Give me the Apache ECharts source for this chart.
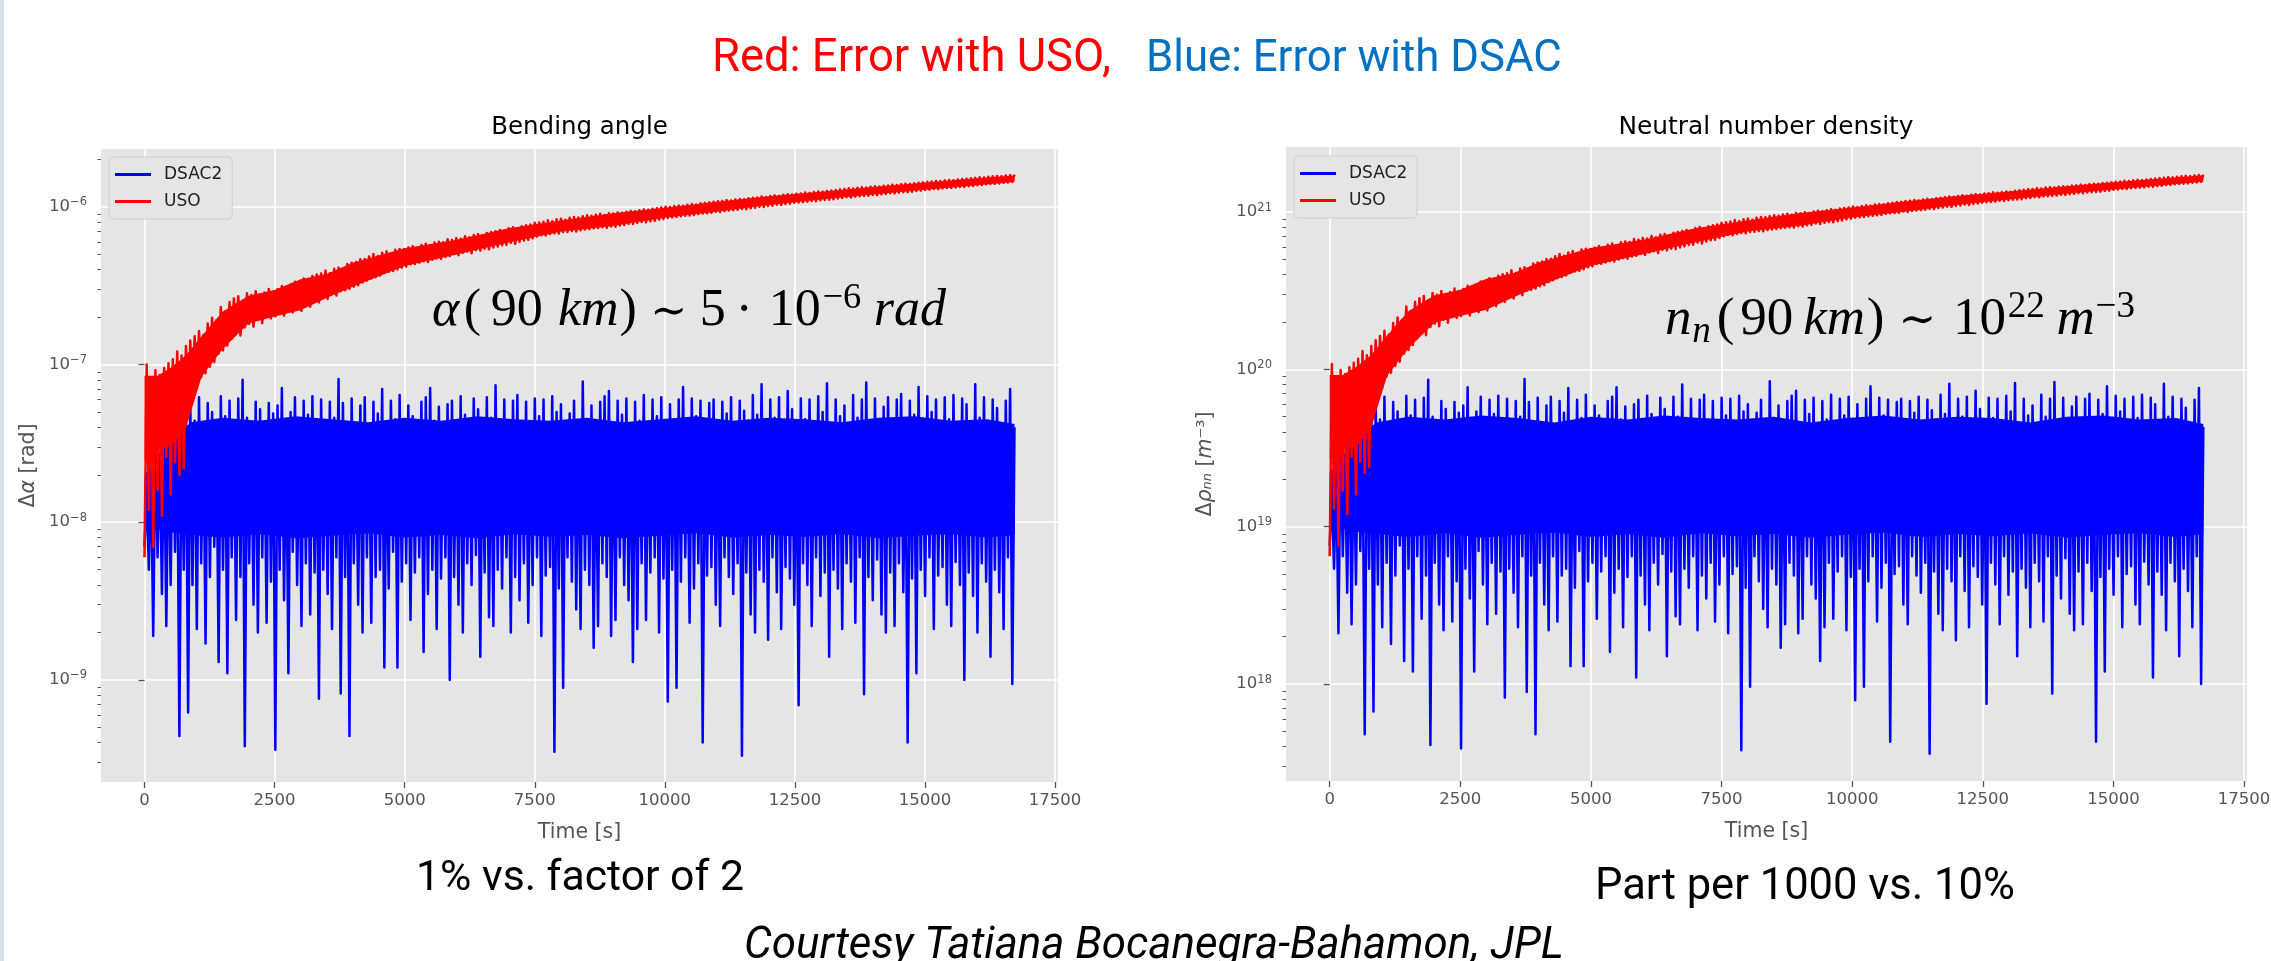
<!DOCTYPE html>
<html>
<head>
<meta charset="utf-8">
<title>Error with USO vs DSAC</title>
<script src="https://cdn.jsdelivr.net/npm/echarts@6/dist/echarts.min.js"></script>
<style>
html,body{margin:0;padding:0;background:#ffffff;overflow:hidden}
#chart{width:2271px;height:961px}
</style>
</head>
<body>
<div id="chart"></div>
<script>
// ================= DATA =================
const timeEnd = 16720;                      // s, last sample of both runs
const timeTicks = [0, 2500, 5000, 7500, 10000, 12500, 15000, 17500];
const angleTicks = [1e-9, 1e-8, 1e-7, 1e-6];
const angleMinorDecades = [1e-10, 1e-9, 1e-8, 1e-7, 1e-6];
const densTicks = [1e18, 1e19, 1e20, 1e21];
const densMinorDecades = [1e17, 1e18, 1e19, 1e20];

// Bending angle error [rad]: upper / lower swing of each noise pair
const angleDsacHi = [
15e-9,22e-9,30e-9,26e-9,36e-9,33e-9,42e-9,38e-9,48e-9,52e-9,
58e-9,44e-9,62e-9,40e-9,57e-9,50e-9,38e-9,63e-9,47e-9,59e-9,
42e-9,61e-9,80e-9,46e-9,39e-9,58e-9,52e-9,36e-9,57e-9,49e-9,
55e-9,71e-9,41e-9,50e-9,62e-9,37e-9,59e-9,48e-9,63e-9,44e-9,
60e-9,38e-9,58e-9,46e-9,81e-9,57e-9,42e-9,61e-9,39e-9,55e-9,
62e-9,40e-9,58e-9,49e-9,70e-9,36e-9,59e-9,45e-9,64e-9,41e-9,
55e-9,47e-9,38e-9,58e-9,62e-9,71e-9,44e-9,54e-9,37e-9,56e-9,
59e-9,42e-9,63e-9,48e-9,36e-9,61e-9,52e-9,40e-9,62e-9,46e-9,
74e-9,45e-9,60e-9,38e-9,59e-9,64e-9,43e-9,58e-9,36e-9,61e-9,
47e-9,60e-9,39e-9,63e-9,50e-9,56e-9,41e-9,49e-9,59e-9,37e-9,
78e-9,45e-9,55e-9,38e-9,58e-9,63e-9,68e-9,42e-9,59e-9,48e-9,
61e-9,39e-9,58e-9,44e-9,64e-9,37e-9,60e-9,47e-9,62e-9,40e-9,
56e-9,43e-9,60e-9,72e-9,38e-9,61e-9,47e-9,59e-9,36e-9,57e-9,
60e-9,41e-9,58e-9,49e-9,62e-9,37e-9,59e-9,51e-9,44e-9,64e-9,
48e-9,75e-9,39e-9,60e-9,46e-9,62e-9,37e-9,68e-9,52e-9,41e-9,
61e-9,45e-9,60e-9,38e-9,63e-9,50e-9,76e-9,40e-9,60e-9,47e-9,
55e-9,39e-9,64e-9,46e-9,60e-9,77e-9,42e-9,61e-9,37e-9,54e-9,
62e-9,44e-9,60e-9,65e-9,38e-9,59e-9,48e-9,72e-9,41e-9,63e-9,
50e-9,60e-9,37e-9,62e-9,45e-9,64e-9,39e-9,61e-9,56e-9,42e-9,
75e-9,46e-9,62e-9,38e-9,60e-9,53e-9,40e-9,59e-9,70e-9,40e-9];
const angleDsacLo = [
70e-10,50e-10,19e-10,60e-10,35e-10,22e-10,40e-10,65e-10,4.4e-10,50e-10,
6.2e-10,40e-10,21e-10,55e-10,17e-10,45e-10,70e-10,13e-10,50e-10,11e-10,
60e-10,24e-10,45e-10,3.8e-10,55e-10,30e-10,20e-10,60e-10,23e-10,42e-10,
3.6e-10,50e-10,32e-10,11e-10,65e-10,40e-10,22e-10,55e-10,26e-10,48e-10,
7.6e-10,50e-10,35e-10,21e-10,60e-10,8.2e-10,45e-10,4.4e-10,55e-10,30e-10,
20e-10,60e-10,23e-10,45e-10,50e-10,12e-10,38e-10,65e-10,12e-10,42e-10,
55e-10,24e-10,48e-10,60e-10,15e-10,35e-10,50e-10,21e-10,44e-10,60e-10,
10e-10,45e-10,30e-10,20e-10,55e-10,40e-10,62e-10,14e-10,48e-10,25e-10,
22e-10,50e-10,38e-10,60e-10,20e-10,45e-10,32e-10,55e-10,23e-10,40e-10,
60e-10,19e-10,46e-10,52e-10,3.5e-10,38e-10,8.9e-10,60e-10,42e-10,28e-10,
21e-10,50e-10,40e-10,16e-10,22e-10,55e-10,45e-10,19e-10,24e-10,60e-10,
40e-10,32e-10,13e-10,21e-10,55e-10,24e-10,48e-10,60e-10,20e-10,44e-10,
7.3e-10,50e-10,8.9e-10,42e-10,60e-10,23e-10,38e-10,55e-10,4.0e-10,46e-10,
52e-10,30e-10,22e-10,60e-10,45e-10,35e-10,55e-10,3.3e-10,48e-10,26e-10,
20e-10,50e-10,42e-10,18e-10,60e-10,36e-10,21e-10,52e-10,44e-10,30e-10,
6.9e-10,55e-10,40e-10,22e-10,60e-10,34e-10,48e-10,14e-10,50e-10,38e-10,
21e-10,55e-10,42e-10,23e-10,60e-10,8.1e-10,45e-10,32e-10,58e-10,26e-10,
20e-10,48e-10,22e-10,55e-10,36e-10,4.0e-10,44e-10,11e-10,50e-10,34e-10,
60e-10,21e-10,46e-10,52e-10,30e-10,22e-10,56e-10,40e-10,10e-10,48e-10,
34e-10,20e-10,55e-10,42e-10,14e-10,50e-10,36e-10,21e-10,60e-10,9.4e-10];
const angleUsoHi = [
100e-9,80e-9,92e-9,86e-9,95e-9,102e-9,108e-9,121e-9,114e-9,131e-9,
142e-9,151e-9,163e-9,154e-9,182e-9,198e-9,191e-9,232e-9,218e-9,249e-9,
262e-9,271e-9,254e-9,283e-9,276e-9,292e-9,279e-9,287e-9,302e-9,291e-9,
300e-9,315e-9,298e-9,322e-9,335e-9,318e-9,352e-9,338e-9,365e-9,372e-9,
378e-9,395e-9,380e-9,405e-9,412e-9,398e-9,435e-9,442e-9,448e-9,465e-9,
468e-9,484e-9,502e-9,488e-9,512e-9,523e-9,506e-9,534e-9,541e-9,538e-9,
552e-9,563e-9,548e-9,574e-9,583e-9,567e-9,594e-9,602e-9,597e-9,624e-9,
618e-9,634e-9,628e-9,652e-9,641e-9,663e-9,672e-9,657e-9,684e-9,692e-9,
702e-9,713e-9,698e-9,732e-9,744e-9,727e-9,753e-9,764e-9,772e-9,793e-9,
797e-9,806e-9,823e-9,812e-9,834e-9,842e-9,828e-9,853e-9,862e-9,858e-9,
872e-9,884e-9,878e-9,893e-9,904e-9,889e-9,912e-9,908e-9,923e-9,918e-9,
932e-9,943e-9,938e-9,952e-9,964e-9,958e-9,973e-9,982e-9,991e-9,1004e-9,
998e-9,1012e-9,1021e-9,1017e-9,1033e-9,1042e-9,1036e-9,1053e-9,1061e-9,1072e-9,
1078e-9,1086e-9,1092e-9,1104e-9,1098e-9,1113e-9,1122e-9,1117e-9,1134e-9,1142e-9,
1148e-9,1163e-9,1157e-9,1172e-9,1184e-9,1176e-9,1193e-9,1202e-9,1197e-9,1213e-9,
1218e-9,1234e-9,1227e-9,1243e-9,1252e-9,1247e-9,1264e-9,1272e-9,1281e-9,1292e-9,
1298e-9,1313e-9,1307e-9,1324e-9,1332e-9,1327e-9,1343e-9,1352e-9,1348e-9,1363e-9,
1368e-9,1382e-9,1377e-9,1393e-9,1402e-9,1398e-9,1413e-9,1422e-9,1431e-9,1443e-9,
1448e-9,1462e-9,1457e-9,1473e-9,1482e-9,1478e-9,1493e-9,1502e-9,1511e-9,1522e-9,
1528e-9,1543e-9,1538e-9,1553e-9,1562e-9,1572e-9,1567e-9,1583e-9,1592e-9,1601e-9];
const angleUsoLo = [
6e-9,12e-9,7e-9,16e-9,11e-9,26e-9,15e-9,24e-9,20e-9,22e-9,
46e-9,62e-9,71e-9,83e-9,88e-9,97e-9,104e-9,117e-9,123e-9,132e-9,
146e-9,162e-9,153e-9,172e-9,181e-9,174e-9,192e-9,183e-9,201e-9,196e-9,
202e-9,212e-9,204e-9,223e-9,214e-9,232e-9,219e-9,242e-9,233e-9,252e-9,
248e-9,272e-9,261e-9,283e-9,274e-9,292e-9,296e-9,302e-9,312e-9,318e-9,
332e-9,341e-9,352e-9,358e-9,366e-9,381e-9,388e-9,392e-9,401e-9,412e-9,
418e-9,432e-9,434e-9,443e-9,452e-9,448e-9,462e-9,471e-9,468e-9,482e-9,
488e-9,502e-9,494e-9,512e-9,521e-9,508e-9,532e-9,528e-9,542e-9,538e-9,
552e-9,561e-9,572e-9,574e-9,592e-9,583e-9,601e-9,612e-9,618e-9,632e-9,
648e-9,662e-9,658e-9,672e-9,681e-9,678e-9,692e-9,694e-9,702e-9,698e-9,
712e-9,718e-9,723e-9,731e-9,734e-9,742e-9,738e-9,752e-9,748e-9,762e-9,
768e-9,782e-9,778e-9,792e-9,801e-9,798e-9,812e-9,818e-9,832e-9,838e-9,
852e-9,858e-9,862e-9,871e-9,878e-9,883e-9,888e-9,902e-9,908e-9,912e-9,
918e-9,932e-9,928e-9,942e-9,948e-9,952e-9,958e-9,972e-9,968e-9,982e-9,
988e-9,1002e-9,998e-9,1012e-9,1018e-9,1032e-9,1028e-9,1042e-9,1048e-9,1062e-9,
1068e-9,1072e-9,1078e-9,1092e-9,1088e-9,1102e-9,1108e-9,1112e-9,1118e-9,1132e-9,
1138e-9,1152e-9,1148e-9,1162e-9,1168e-9,1172e-9,1178e-9,1192e-9,1188e-9,1202e-9,
1208e-9,1222e-9,1218e-9,1232e-9,1238e-9,1242e-9,1248e-9,1262e-9,1268e-9,1282e-9,
1288e-9,1302e-9,1298e-9,1312e-9,1318e-9,1322e-9,1328e-9,1342e-9,1338e-9,1352e-9,
1358e-9,1372e-9,1378e-9,1392e-9,1398e-9,1402e-9,1408e-9,1422e-9,1428e-9,1442e-9];

// Dense core of each noise band (where the trace is solid colour)
const dsacBandT = [0, 300, 600, 900, 1500, 2200, 2900, 3600, 4300, 5000, 5700, 6400, 7100, 7800, 8500, 9200, 9900, 10600, 11300, 12000, 12700, 13400, 14100, 14800, 15500, 16200, 16720];
const angleDsacBandHi = [2.0e-8, 2.8e-8, 3.6e-8, 4.3e-8, 4.6e-8, 4.4e-8, 4.7e-8, 4.5e-8, 4.3e-8, 4.6e-8, 4.4e-8, 4.7e-8, 4.5e-8, 4.4e-8, 4.6e-8, 4.3e-8, 4.5e-8, 4.7e-8, 4.4e-8, 4.6e-8, 4.5e-8, 4.3e-8, 4.6e-8, 4.7e-8, 4.4e-8, 4.5e-8, 4.2e-8];
const angleDsacBandLo = [9e-9, 9e-9, 8.5e-9, 8.3e-9, 8.0e-9, 8.4e-9, 7.9e-9, 8.2e-9, 8.5e-9, 8.0e-9, 8.3e-9, 7.9e-9, 8.4e-9, 8.1e-9, 8.3e-9, 7.9e-9, 8.2e-9, 8.5e-9, 8.0e-9, 8.3e-9, 8.1e-9, 8.4e-9, 7.9e-9, 8.2e-9, 8.4e-9, 8.0e-9, 8.3e-9];
const usoBandT = [0, 250, 500, 800, 1100, 1500, 2000, 2500, 3000, 3500, 4000, 5000, 6000, 7000, 8000, 9000, 10000, 11000, 12000, 13000, 14000, 15000, 16000, 16720];
const angleUsoBandHi = [8.5e-8, 8.5e-8, 9.5e-8, 1.15e-7, 1.52e-7, 2.16e-7, 2.73e-7, 2.97e-7, 3.48e-7, 3.76e-7, 4.43e-7, 5.46e-7, 6.18e-7, 7.31e-7, 8.19e-7, 9.12e-7, 9.89e-7, 1.08e-6, 1.17e-6, 1.25e-6, 1.34e-6, 1.43e-6, 1.52e-6, 1.585e-6];
const angleUsoBandLo = [2.5e-8, 3e-8, 3e-8, 4e-8, 8.4e-8, 1.25e-7, 1.82e-7, 2.02e-7, 2.21e-7, 2.64e-7, 3.12e-7, 4.22e-7, 4.99e-7, 5.95e-7, 6.96e-7, 7.58e-7, 8.54e-7, 9.31e-7, 1.027e-6, 1.114e-6, 1.2e-6, 1.286e-6, 1.373e-6, 1.44e-6];

// Neutral number density error [m^-3]
const densDsacHi = [
16e18,24e18,32e18,28e18,39e18,36e18,45e18,41e18,52e18,56e18,
63e18,48e18,67e18,43e18,62e18,54e18,41e18,68e18,51e18,64e18,
45e18,66e18,86e18,50e18,42e18,63e18,56e18,39e18,62e18,53e18,
59e18,77e18,44e18,54e18,67e18,40e18,64e18,52e18,68e18,48e18,
65e18,41e18,63e18,50e18,87e18,62e18,45e18,66e18,42e18,59e18,
67e18,43e18,63e18,53e18,76e18,39e18,64e18,49e18,69e18,44e18,
59e18,51e18,41e18,63e18,67e18,77e18,48e18,58e18,40e18,60e18,
64e18,45e18,68e18,52e18,39e18,66e18,56e18,43e18,67e18,50e18,
80e18,49e18,65e18,41e18,64e18,69e18,46e18,63e18,39e18,66e18,
51e18,65e18,42e18,68e18,54e18,60e18,44e18,53e18,64e18,40e18,
84e18,49e18,59e18,41e18,63e18,68e18,73e18,45e18,64e18,52e18,
66e18,42e18,63e18,48e18,69e18,40e18,65e18,51e18,67e18,43e18,
60e18,46e18,65e18,78e18,41e18,66e18,51e18,64e18,39e18,62e18,
65e18,44e18,63e18,53e18,67e18,40e18,64e18,55e18,48e18,69e18,
52e18,81e18,42e18,65e18,50e18,67e18,40e18,73e18,56e18,44e18,
66e18,49e18,65e18,41e18,68e18,54e18,82e18,43e18,65e18,51e18,
59e18,42e18,69e18,50e18,65e18,83e18,45e18,66e18,40e18,58e18,
67e18,48e18,65e18,70e18,41e18,64e18,52e18,78e18,44e18,68e18,
54e18,65e18,40e18,67e18,49e18,69e18,42e18,66e18,60e18,45e18,
81e18,50e18,67e18,41e18,65e18,57e18,43e18,64e18,76e18,43e18];
const densDsacLo = [
76e17,54e17,21e17,65e17,38e17,24e17,43e17,70e17,4.8e17,54e17,
6.7e17,43e17,23e17,59e17,18e17,49e17,76e17,14e17,54e17,12e17,
65e17,26e17,49e17,4.1e17,59e17,32e17,22e17,65e17,25e17,45e17,
3.9e17,54e17,35e17,12e17,70e17,43e17,24e17,59e17,28e17,52e17,
8.2e17,54e17,38e17,23e17,65e17,8.9e17,49e17,4.8e17,59e17,32e17,
22e17,65e17,25e17,49e17,54e17,13e17,41e17,70e17,13e17,45e17,
59e17,26e17,52e17,65e17,16e17,38e17,54e17,23e17,48e17,65e17,
11e17,49e17,32e17,22e17,59e17,43e17,67e17,15e17,52e17,27e17,
24e17,54e17,41e17,65e17,22e17,49e17,35e17,59e17,25e17,43e17,
65e17,21e17,50e17,56e17,3.8e17,41e17,9.6e17,65e17,45e17,30e17,
23e17,54e17,43e17,17e17,24e17,59e17,49e17,21e17,26e17,65e17,
43e17,35e17,14e17,23e17,59e17,26e17,52e17,65e17,22e17,48e17,
7.9e17,54e17,9.6e17,45e17,65e17,25e17,41e17,59e17,4.3e17,50e17,
56e17,32e17,24e17,65e17,49e17,38e17,59e17,3.6e17,52e17,28e17,
22e17,54e17,45e17,19e17,65e17,39e17,23e17,56e17,48e17,32e17,
7.5e17,59e17,43e17,24e17,65e17,37e17,52e17,15e17,54e17,41e17,
23e17,59e17,45e17,25e17,65e17,8.7e17,49e17,35e17,63e17,28e17,
22e17,52e17,24e17,59e17,39e17,4.3e17,48e17,12e17,54e17,37e17,
65e17,23e17,50e17,56e17,32e17,24e17,60e17,43e17,11e17,52e17,
37e17,22e17,59e17,45e17,15e17,54e17,39e17,23e17,65e17,10e17];
const densUsoHi = [
108e18,86e18,99e18,93e18,103e18,110e18,117e18,131e18,123e18,141e18,
153e18,163e18,176e18,166e18,197e18,214e18,206e18,251e18,235e18,269e18,
283e18,293e18,274e18,306e18,298e18,315e18,301e18,310e18,326e18,314e18,
324e18,340e18,322e18,348e18,362e18,343e18,380e18,365e18,394e18,402e18,
408e18,427e18,410e18,437e18,445e18,430e18,470e18,477e18,484e18,502e18,
505e18,523e18,542e18,527e18,553e18,565e18,546e18,577e18,584e18,581e18,
596e18,608e18,592e18,620e18,630e18,612e18,642e18,650e18,645e18,674e18,
667e18,685e18,678e18,704e18,692e18,716e18,726e18,710e18,739e18,747e18,
758e18,770e18,754e18,791e18,804e18,785e18,813e18,825e18,834e18,856e18,
861e18,870e18,889e18,877e18,901e18,909e18,894e18,921e18,931e18,927e18,
942e18,955e18,948e18,964e18,976e18,960e18,985e18,981e18,997e18,991e18,
1007e18,1018e18,1013e18,1028e18,1041e18,1035e18,1051e18,1061e18,1070e18,1084e18,
1078e18,1093e18,1103e18,1098e18,1116e18,1125e18,1119e18,1137e18,1146e18,1158e18,
1164e18,1173e18,1179e18,1192e18,1186e18,1202e18,1212e18,1206e18,1225e18,1233e18,
1240e18,1256e18,1250e18,1266e18,1279e18,1270e18,1288e18,1298e18,1293e18,1310e18,
1315e18,1333e18,1325e18,1342e18,1352e18,1347e18,1365e18,1374e18,1383e18,1395e18,
1402e18,1418e18,1412e18,1430e18,1439e18,1433e18,1450e18,1460e18,1456e18,1472e18,
1477e18,1493e18,1487e18,1504e18,1514e18,1510e18,1526e18,1536e18,1545e18,1558e18,
1564e18,1579e18,1574e18,1591e18,1601e18,1596e18,1612e18,1622e18,1632e18,1644e18,
1650e18,1666e18,1661e18,1677e18,1687e18,1698e18,1692e18,1710e18,1719e18,1729e18];
const densUsoLo = [
6.5e18,13e18,7.6e18,17e18,12e18,28e18,16e18,26e18,22e18,24e18,
50e18,67e18,77e18,90e18,95e18,105e18,112e18,126e18,133e18,143e18,
158e18,175e18,165e18,186e18,195e18,188e18,207e18,198e18,217e18,212e18,
218e18,229e18,220e18,241e18,231e18,251e18,237e18,261e18,252e18,272e18,
268e18,294e18,282e18,306e18,296e18,315e18,320e18,326e18,337e18,343e18,
359e18,368e18,380e18,387e18,395e18,411e18,419e18,423e18,433e18,445e18,
451e18,467e18,469e18,478e18,488e18,484e18,499e18,509e18,505e18,521e18,
527e18,542e18,534e18,553e18,563e18,549e18,575e18,570e18,585e18,581e18,
596e18,606e18,618e18,620e18,639e18,630e18,649e18,661e18,667e18,683e18,
700e18,715e18,711e18,726e18,735e18,732e18,747e18,750e18,758e18,754e18,
769e18,775e18,781e18,789e18,793e18,801e18,797e18,812e18,808e18,823e18,
829e18,845e18,840e18,855e18,865e18,862e18,877e18,883e18,899e18,905e18,
920e18,927e18,931e18,941e18,948e18,954e18,959e18,974e18,981e18,985e18,
991e18,1007e18,1002e18,1017e18,1024e18,1028e18,1035e18,1050e18,1045e18,1061e18,
1067e18,1082e18,1078e18,1093e18,1099e18,1115e18,1110e18,1125e18,1132e18,1147e18,
1153e18,1158e18,1164e18,1179e18,1175e18,1190e18,1197e18,1201e18,1207e18,1223e18,
1229e18,1244e18,1240e18,1255e18,1261e18,1266e18,1272e18,1287e18,1283e18,1298e18,
1305e18,1320e18,1315e18,1331e18,1337e18,1341e18,1348e18,1363e18,1369e18,1385e18,
1391e18,1406e18,1402e18,1417e18,1423e18,1428e18,1434e18,1449e18,1445e18,1460e18,
1467e18,1482e18,1488e18,1503e18,1510e18,1514e18,1521e18,1536e18,1542e18,1557e18];
const densDsacBandHi = [2.2e19, 3.0e19, 3.9e19, 4.6e19, 5.0e19, 4.8e19, 5.1e19, 4.9e19, 4.6e19, 5.0e19, 4.8e19, 5.1e19, 4.9e19, 4.8e19, 5.0e19, 4.6e19, 4.9e19, 5.1e19, 4.8e19, 5.0e19, 4.9e19, 4.6e19, 5.0e19, 5.1e19, 4.8e19, 4.9e19, 4.5e19];
const densDsacBandLo = [9.7e18, 9.7e18, 9.2e18, 9.0e18, 8.6e18, 9.1e18, 8.5e18, 8.9e18, 9.2e18, 8.6e18, 9.0e18, 8.5e18, 9.1e18, 8.7e18, 9.0e18, 8.5e18, 8.9e18, 9.2e18, 8.6e18, 9.0e18, 8.7e18, 9.1e18, 8.5e18, 8.9e18, 9.1e18, 8.6e18, 9.0e18];
const densUsoBandHi = [9.2e19, 9.2e19, 1.03e20, 1.24e20, 1.64e20, 2.33e20, 2.95e20, 3.21e20, 3.76e20, 4.06e20, 4.78e20, 5.9e20, 6.67e20, 7.89e20, 8.85e20, 9.85e20, 1.068e21, 1.166e21, 1.264e21, 1.35e21, 1.447e21, 1.544e21, 1.642e21, 1.712e21];
const densUsoBandLo = [2.7e19, 3.2e19, 3.2e19, 4.3e19, 9.1e19, 1.35e20, 1.97e20, 2.18e20, 2.39e20, 2.85e20, 3.37e20, 4.56e20, 5.39e20, 6.43e20, 7.52e20, 8.19e20, 9.22e20, 1.005e21, 1.109e21, 1.203e21, 1.296e21, 1.389e21, 1.483e21, 1.555e21];

// ================= helpers =================
function zigzag(lo, hi) {           // alternate lower / upper swing of each pair in time order
  const n = lo.length, steps = 2 * n - 1, out = [];
  for (let i = 0; i < n; i++) {
    out.push([timeEnd * (2 * i) / steps, lo[i]]);
    out.push([timeEnd * (2 * i + 1) / steps, hi[i]]);
  }
  return out;
}
function minorTicks(decades) {
  const out = [];
  decades.forEach(d => { for (let k = 2; k <= 9; k++) out.push(k * d); });
  return out;
}
function powLabel(v) {
  const e = Math.round(Math.log10(v));
  return '{b|10}{s|' + String(e).replace('-', '\u2212') + '}';
}
const mctx = document.createElement('canvas').getContext('2d');
function fitSize(text, family, style, target) {
  mctx.font = style + ' 100px "' + family + '"';
  return 100 * target / mctx.measureText(text).width;
}

const MPL = 'DejaVu Sans';
const GREY = '#555555';
const BG = '#E5E5E5';

function xAxisFor(g) {
  return {
    type: 'value', gridIndex: g, min: -836, max: 17556,
    axisLine: {show: false},
    axisTick: {show: true, length: 6, customValues: timeTicks, lineStyle: {color: GREY, width: 1.3}},
    axisLabel: {show: true, customValues: timeTicks, formatter: v => String(v), color: GREY, fontFamily: MPL, fontSize: 16.5, margin: 10},
    splitLine: {show: true, lineStyle: {color: '#FFFFFF', width: 1.6}},
    name: 'Time [s]', nameLocation: 'middle', nameGap: 40,
    nameTextStyle: {color: GREY, fontFamily: MPL, fontSize: 20.5}
  };
}
const nameRich = {
  r: {fontFamily: MPL, fontSize: 20.5, color: GREY},
  i: {fontFamily: MPL, fontSize: 20.5, color: GREY, fontStyle: 'italic'}
};
const tickRich = {
  b: {fontFamily: MPL, fontSize: 16.5, color: GREY},
  s: {fontFamily: MPL, fontSize: 11.5, color: GREY, padding: [0, 0, 9, 0]}
};
function yMajor(g, min, max, ticks, name, gap) {
  return {
    type: 'log', logBase: 10, gridIndex: g, min: min, max: max, position: 'left',
    axisLine: {show: false},
    axisTick: {show: true, length: 6, customValues: ticks, lineStyle: {color: GREY, width: 1.3}},
    axisLabel: {show: true, customValues: ticks, formatter: powLabel, color: GREY, fontFamily: MPL, fontSize: 16.5, margin: 14, rich: tickRich},
    splitLine: {show: true, lineStyle: {color: '#FFFFFF', width: 1.6}},
    name: name, nameLocation: 'middle', nameRotate: 90, nameGap: gap,
    nameTextStyle: {color: GREY, fontFamily: MPL, fontSize: 20.5, rich: nameRich}
  };
}
function yMinor(g, min, max, ticks) {
  return {
    type: 'log', logBase: 10, gridIndex: g, min: min, max: max, position: 'left', offset: 0,
    axisLine: {show: false},
    axisTick: {show: true, length: 3.5, customValues: ticks, lineStyle: {color: GREY, width: 1}},
    axisLabel: {show: false},
    splitLine: {show: false}
  };
}
function lineSeries(name, color, xi, yi, data, z) {
  return {
    type: 'line', name: name, xAxisIndex: xi, yAxisIndex: yi, data: data,
    symbol: 'none', showSymbol: false, silent: true, animation: false, z: z,
    lineStyle: {color: color, width: 2.5, join: 'round'}, itemStyle: {color: color}
  };
}
function bandSeries(xi, yi, T, lo, hi, color, z) {
  return {
    type: 'custom', xAxisIndex: xi, yAxisIndex: yi, data: [[T[0], lo[0]]],
    silent: true, animation: false, z: z, clip: true,
    renderItem: function (params, api) {
      const pts = [];
      for (let i = 0; i < T.length; i++) pts.push(api.coord([T[i], hi[i]]));
      for (let i = T.length - 1; i >= 0; i--) pts.push(api.coord([T[i], lo[i]]));
      return {type: 'polygon', shape: {points: pts}, style: {fill: color}};
    }
  };
}
function legendFor(left, top) {
  return {
    data: ['DSAC2', 'USO'], left: left, top: top, orient: 'vertical', icon: 'rect',
    itemWidth: 36, itemHeight: 3, itemGap: 10, selectedMode: false,
    backgroundColor: BG, borderColor: '#CFCFCF', borderWidth: 1, borderRadius: 4,
    padding: [9, 10, 9, 6],
    textStyle: {fontFamily: MPL, fontSize: 17, color: '#222222', padding: [0, 0, 0, 8]}
  };
}
function txt(text, x, baseline, size, family, o) {
  o = o || {};
  return {
    type: 'text', x: x, y: baseline - 0.24 * size, z: 100, silent: true,
    style: {
      text: text, fill: o.color || '#000000', fontSize: size, fontFamily: family,
      fontStyle: o.italic ? 'italic' : 'normal',
      align: o.align || 'left', textAlign: o.align || 'left',
      verticalAlign: 'middle', textVerticalAlign: 'middle'
    }
  };
}
// math annotation laid out left to right between x0 and x1
// pieces: [text, kind, gapWeightBefore, family?, sizeFactor?]
function mathFlow(pieces, x0, x1, baseline, size) {
  const MATH = 'Liberation Serif';
  const items = pieces.map(p => {
    const kind = p[1];
    let s = (kind === 'sup' || kind === 'sub') ? size * 0.7 : size;
    if (p[4]) s = s * p[4];
    const fam = p[3] || MATH;
    const italic = kind === 'i' || kind === 'sub';
    mctx.font = (italic ? 'italic ' : '') + s + 'px "' + fam + '"';
    return {text: p[0], kind: kind, s: s, fam: fam, italic: italic, w: mctx.measureText(p[0]).width, gap: p[2]};
  });
  const glyphW = items.reduce((a, b) => a + b.w, 0);
  const gapW = items.reduce((a, b) => a + b.gap, 0);
  const unit = Math.max(0, (x1 - x0 - glyphW) / gapW);
  let x = x0;
  const out = [];
  items.forEach(it => {
    x += it.gap * unit;
    let b = baseline;
    if (it.kind === 'sup') b = baseline - 17;
    if (it.kind === 'sub') b = baseline + 8;
    out.push(txt(it.text, x, b, it.s, it.fam, {italic: it.italic}));
    x += it.w;
  });
  return out;
}

const ROBOTO = 'Roboto';
const header1 = 'Red: Error with USO,';
const header2 = 'Blue: Error with DSAC';
const note1 = '1% vs. factor of 2';
const note2 = 'Part per 1000 vs. 10%';
const credit = 'Courtesy Tatiana Bocanegra-Bahamon, JPL';

const graphics = [
  {type: 'rect', shape: {x: 0, y: 0, width: 4, height: 961}, style: {fill: '#D8DEE6'}, z: 100, silent: true},
  txt(header1, 712, 71, fitSize(header1, ROBOTO, 'normal', 399), ROBOTO, {color: '#FF0000'}),
  txt(header2, 1146, 71, fitSize(header2, ROBOTO, 'normal', 416), ROBOTO, {color: '#0070C0'}),
  txt('Bending angle', 579.5, 134, 24.5, MPL, {align: 'center'}),
  txt('Neutral number density', 1766, 134, 24.8, MPL, {align: 'center'}),
  txt(note1, 416, 890, fitSize(note1, ROBOTO, 'normal', 328), ROBOTO),
  txt(note2, 1595, 899, fitSize(note2, ROBOTO, 'normal', 420), ROBOTO),
  txt(credit, 744, 958, fitSize(credit, ROBOTO, 'italic', 820), ROBOTO, {italic: true})
].concat(
  mathFlow([['\u03B1', 'i', 0], ['(', 'r', 5], ['90', 'r', 11], ['km', 'i', 17], [')', 'r', 1],
            ['\u223C', 'r', 15, 'DejaVu Serif', 0.85], ['5', 'r', 14], ['\u00B7', 'r', 11], ['10', 'r', 18],
            ['\u22126', 'sup', 2], ['rad', 'i', 14]], 432, 946, 324, 52),
  mathFlow([['n', 'i', 0], ['n', 'sub', 1], ['(', 'r', 7], ['90', 'r', 7], ['km', 'i', 12],
            [')', 'r', 2], ['\u223C', 'r', 17, 'DejaVu Serif', 0.85], ['10', 'r', 20], ['22', 'sup', 2],
            ['m', 'i', 14], ['\u22123', 'sup', 1]], 1665, 2135, 333, 53)
);

const chart = echarts.init(document.getElementById('chart'), null, {renderer: 'canvas', width: 2271, height: 961});
chart.setOption({
  backgroundColor: '#FFFFFF',
  animation: false,
  grid: [
    {left: 101, top: 149, width: 957, height: 633, show: true, backgroundColor: BG, borderWidth: 0, containLabel: false, outerBoundsMode: 'none'},
    {left: 1286, top: 147, width: 961, height: 634, show: true, backgroundColor: BG, borderWidth: 0, containLabel: false, outerBoundsMode: 'none'}
  ],
  xAxis: [xAxisFor(0), xAxisFor(1)],
  yAxis: [
    yMajor(0, 2.25e-10, 2.33e-6, angleTicks, '{r|\u0394}{i|\u03B1}{r| [rad]}', 62),
    yMinor(0, 2.25e-10, 2.33e-6, minorTicks(angleMinorDecades)),
    yMajor(1, 2.42e17, 2.59e21, densTicks, '{r|\u0394}{i|\u03C1\u2099\u2099}{r| [}{i|m}{r|\u207B\u00B3]}', 70),
    yMinor(1, 2.42e17, 2.59e21, minorTicks(densMinorDecades))
  ],
  legend: [legendFor(109, 157), legendFor(1294, 156)],
  series: [
    bandSeries(0, 0, dsacBandT, angleDsacBandLo, angleDsacBandHi, '#0000FF', 2),
    lineSeries('DSAC2', '#0000FF', 0, 0, zigzag(angleDsacLo, angleDsacHi), 2),
    bandSeries(0, 0, usoBandT, angleUsoBandLo, angleUsoBandHi, '#FF0000', 3),
    lineSeries('USO', '#FF0000', 0, 0, zigzag(angleUsoLo, angleUsoHi), 3),
    bandSeries(1, 2, dsacBandT, densDsacBandLo, densDsacBandHi, '#0000FF', 2),
    lineSeries('DSAC2', '#0000FF', 1, 2, zigzag(densDsacLo, densDsacHi), 2),
    bandSeries(1, 2, usoBandT, densUsoBandLo, densUsoBandHi, '#FF0000', 3),
    lineSeries('USO', '#FF0000', 1, 2, zigzag(densUsoLo, densUsoHi), 3)
  ],
  graphic: graphics
});
</script>
</body>
</html>
